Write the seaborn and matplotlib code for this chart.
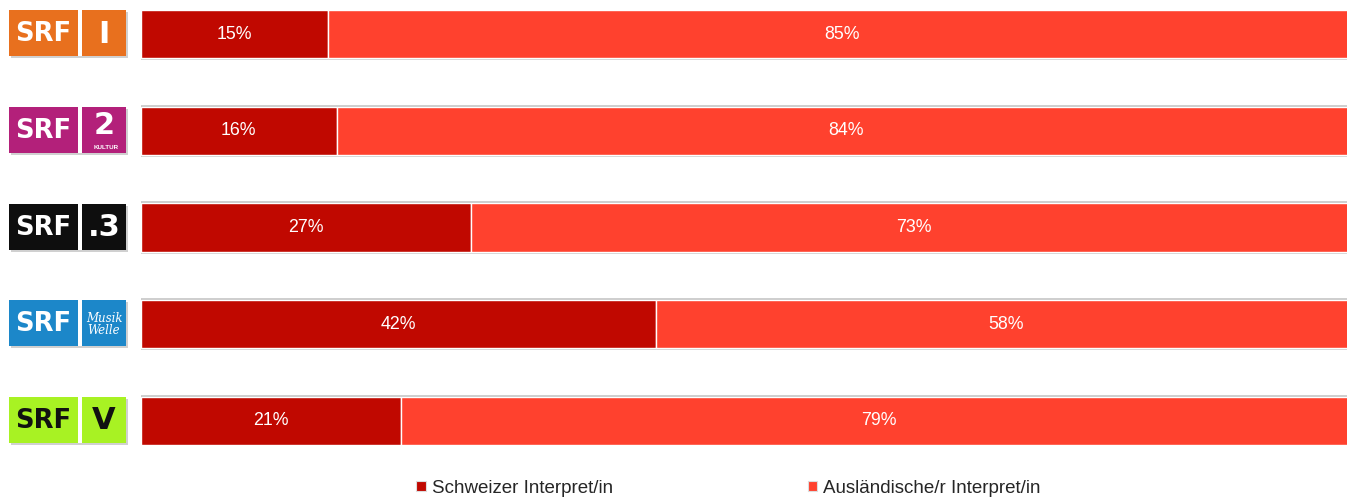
import matplotlib
matplotlib.use("Agg")
import matplotlib.pyplot as plt
import matplotlib.transforms as mtransforms
from matplotlib.patches import Rectangle
import seaborn as sns
import pandas as pd

stations = ["SRF 1", "SRF 2 Kultur", "SRF 3", "SRF Musikwelle", "SRF Virus"]
swiss = [15.4, 16.1, 27.2, 42.4, 21.4]
foreign = [84.6, 83.9, 72.8, 57.6, 78.6]
series_names = ["Schweizer Interpret/in", "Ausländische/r Interpret/in"]
logo_bg = ["#E8701E", "#B3207A", "#0E0E0E", "#1C87C9", "#A8F223"]
logo_fg = ["white", "white", "white", "white", "#111111"]
logo_right = ["I", "2", ".3", "Musik\nWelle", "V"]

c_swiss = "#C00800"
c_foreign = "#FF412E"

sns.set_theme(style="white")
plt.rcParams["font.family"] = ["Liberation Sans", "DejaVu Sans"]

df = pd.DataFrame({"station": stations, "swiss": swiss, "foreign": foreign})
df["total"] = df["swiss"] + df["foreign"]

W = 1347
fig = plt.figure(figsize=(13.47, 4.98), dpi=100)
# the plot area runs past the right edge of the picture (as in the reference)
ax = fig.add_axes([141 / W, 1 - 445 / 498, (1356 - 141) / W, 435 / 498])

ax.barh(range(len(stations)), df["total"], height=0.5, facecolor="none",
        edgecolor="#c4c4c4", linewidth=2.6, zorder=0.5)
sns.barplot(data=df, x="swiss", y="station", order=stations, orient="h",
            color=c_swiss, width=0.5, edgecolor="white", linewidth=1.0,
            saturation=1, ax=ax, zorder=2)
cont2 = ax.barh(range(len(stations)), df["foreign"], left=df["swiss"], height=0.5,
                color=c_foreign, edgecolor="white", linewidth=1.0, zorder=2)

ax.bar_label(ax.containers[1], labels=[f"{v:.0f}%" for v in swiss], label_type="center",
             color="white", fontsize=12.8)
ax.bar_label(cont2, labels=[f"{v:.0f}%" for v in foreign], label_type="center",
             color="white", fontsize=12.8)

ax.set_xlim(0, 100)
ax.set_ylim(4.25, -0.25)
ax.set_xlabel("")
ax.set_ylabel("")
ax.set_xticks([])
ax.set_yticks([])
for s in ax.spines.values():
    s.set_visible(False)

# logos
tr = mtransforms.blended_transform_factory(fig.transFigure, ax.transData)
for i, st in enumerate(stations):
    y0 = i - 0.245
    h = 0.475
    ax.add_patch(Rectangle((10.5 / W, y0 + 0.02), 117 / W, h, transform=tr,
                           facecolor="#d0d0d0", edgecolor="none", clip_on=False, zorder=0))
    ax.add_patch(Rectangle((9 / W, y0), 69 / W, h, transform=tr,
                           facecolor=logo_bg[i], edgecolor="none", clip_on=False, zorder=1))
    ax.add_patch(Rectangle((82 / W, y0), 44 / W, h, transform=tr,
                           facecolor=logo_bg[i], edgecolor="none", clip_on=False, zorder=1))
    ax.add_patch(Rectangle((78 / W, y0), 4 / W, h, transform=tr,
                           facecolor="white", edgecolor="none", clip_on=False, zorder=1))
    ax.text(43.5 / W, i, "SRF", transform=tr, ha="center", va="center",
            color=logo_fg[i], fontsize=18.5, fontweight="bold", family=["DejaVu Sans"],
            clip_on=False, zorder=3)
    rt = logo_right[i]
    if i == 3:
        ax.text(104 / W, i, rt, transform=tr, ha="center", va="center", color="white",
                fontsize=8.5, style="italic", family=["DejaVu Serif"], linespacing=0.9,
                clip_on=False, zorder=3)
    elif i == 1:
        ax.text(104 / W, i - 0.05, "2", transform=tr, ha="center", va="center",
                color="white", fontsize=22, fontweight="bold", family=["DejaVu Sans"],
                clip_on=False, zorder=3)
        ax.text(106 / W, i + 0.17, "KULTUR", transform=tr, ha="center", va="center",
                color="white", fontsize=4.5, fontweight="bold", clip_on=False, zorder=3)
    else:
        ax.text(104 / W, i, rt, transform=tr, ha="center", va="center",
                color=logo_fg[i], fontsize=22, fontweight="heavy",
                family=["DejaVu Sans"], clip_on=False, zorder=3)

handles = [Rectangle((0, 0), 1, 1, facecolor=c_swiss, edgecolor="#dddddd", linewidth=0.8),
           Rectangle((0, 0), 1, 1, facecolor=c_foreign, edgecolor="#dddddd", linewidth=0.8)]
fig.legend(handles, series_names, loc="center", bbox_to_anchor=(728.5 / W, 1 - 488 / 498),
           ncol=2, frameon=False, fontsize=13.5, handlelength=0.5, handleheight=0.5,
           handletextpad=0.32, columnspacing=10.4, borderpad=0)

fig.savefig("out.png", dpi=100)
